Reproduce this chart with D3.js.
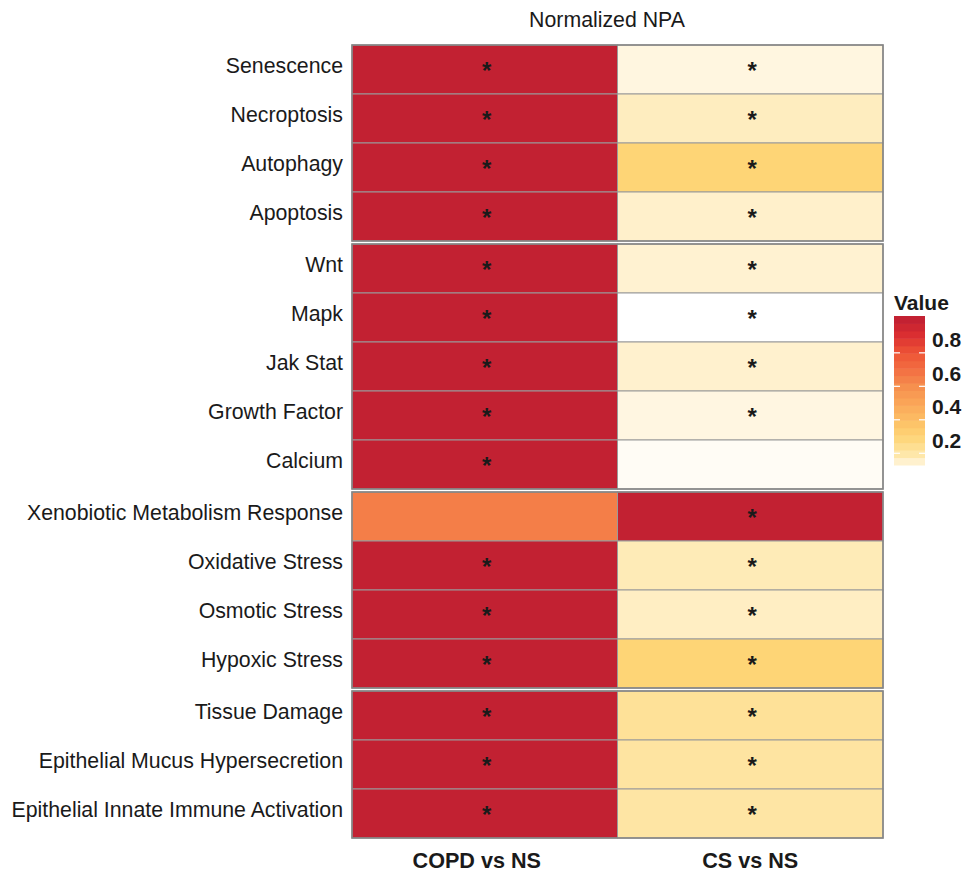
<!DOCTYPE html>
<html>
<head>
<meta charset="utf-8">
<script src="https://cdn.jsdelivr.net/npm/d3@7/dist/d3.min.js"></script>
<style>
  html, body { margin: 0; padding: 0; background: #fff; }
  svg { display: block; font-family: "Liberation Sans", Arial, Helvetica, sans-serif; }
</style>
</head>
<body>
<svg id="chart" width="963" height="872"></svg>
<script>
// Pathway rows, top to bottom, with the block each belongs to
const pathways = [
  "Senescence", "Necroptosis", "Autophagy", "Apoptosis",
  "Wnt", "Mapk", "Jak Stat", "Growth Factor", "Calcium",
  "Xenobiotic Metabolism Response", "Oxidative Stress", "Osmotic Stress", "Hypoxic Stress",
  "Tissue Damage", "Epithelial Mucus Hypersecretion", "Epithelial Innate Immune Activation"
];
const blocks = [0, 0, 0, 0, 1, 1, 1, 1, 1, 2, 2, 2, 2, 3, 3, 3];

const comparisons = ["COPD vs NS", "CS vs NS"];

// Normalized NPA per comparison
const copdValues = [1.0, 1.0, 1.0, 1.0, 1.0, 1.0, 1.0, 1.0, 1.0, 0.65, 1.0, 1.0, 1.0, 1.0, 1.0, 1.0];
const csValues   = [0.13, 0.17, 0.30, 0.155, 0.148, 0.0, 0.152, 0.125, 0.04, 1.0, 0.18, 0.165, 0.30, 0.23, 0.21, 0.205];

// Significance flags (drawn as asterisks)
const copdSig = [1, 1, 1, 1, 1, 1, 1, 1, 1, 0, 1, 1, 1, 1, 1, 1];
const csSig   = [1, 1, 1, 1, 1, 1, 1, 1, 0, 1, 1, 1, 1, 1, 1, 1];

const legendTicks = [0.2, 0.4, 0.6, 0.8];
const legendRange = [0.13, 1.02];

// Colour ramp: cream -> yellow -> orange -> red
const colorStops = [0.0, 0.13, 0.2, 0.3, 0.4, 0.5, 0.6, 0.7, 0.8, 0.9, 1.02];
const colorValues = ["#ffffff", "#fff6e0", "#fee6a6", "#fed576", "#fdbe65", "#faa658",
                     "#f68f4e", "#f26e42", "#ee5536", "#dc2f31", "#bd1e32"];

const color = d3.scaleLinear().domain(colorStops).range(colorValues)
  .interpolate(d3.interpolateRgb).clamp(true);

const svg = d3.select("#chart");

const rowGap = 3;
const x = d3.scaleBand().domain(comparisons).range([352, 883]);
const y = d3.scaleBand().domain(pathways).range([45, 45 + 16 * 49]);
const yPos = (p, i) => y(p) + blocks[i] * rowGap;

const cells = [];
pathways.forEach((p, i) => {
  cells.push({ p, i, comp: comparisons[0], v: copdValues[i], sig: copdSig[i] });
  cells.push({ p, i, comp: comparisons[1], v: csValues[i], sig: csSig[i] });
});

const g = svg.append("g");

g.selectAll("rect.cell").data(cells).join("rect")
  .attr("class", "cell")
  .attr("x", d => x(d.comp))
  .attr("y", d => yPos(d.p, d.i))
  .attr("width", x.bandwidth())
  .attr("height", y.bandwidth())
  .attr("fill", d => color(d.v))
  .attr("stroke", "#9a9a9a")
  .attr("stroke-width", 1);

// Block outlines
const blockIds = [...new Set(blocks)];
blockIds.forEach(b => {
  const idx = blocks.map((v, i) => v === b ? i : -1).filter(i => i >= 0);
  const top = yPos(pathways[idx[0]], idx[0]);
  const bottom = yPos(pathways[idx[idx.length - 1]], idx[idx.length - 1]) + y.bandwidth();
  g.append("rect")
    .attr("x", x.range()[0])
    .attr("y", top)
    .attr("width", x.range()[1] - x.range()[0])
    .attr("height", bottom - top)
    .attr("fill", "none")
    .attr("stroke", "#858585")
    .attr("stroke-width", 1.6);
});

// Asterisks
g.selectAll("text.star").data(cells.filter(d => d.sig)).join("text")
  .attr("class", "star")
  .attr("x", d => x(d.comp) + x.bandwidth() / 2 + 2)
  .attr("y", d => yPos(d.p, d.i) + y.bandwidth() / 2 + 9)
  .attr("text-anchor", "middle")
  .attr("font-size", 24)
  .attr("font-weight", "bold")
  .attr("fill", "#1a1a1a")
  .text("*");

// Row labels
g.selectAll("text.row").data(pathways).join("text")
  .attr("class", "row")
  .attr("x", 343)
  .attr("y", (p, i) => yPos(p, i) + y.bandwidth() / 2 + 3.5)
  .attr("text-anchor", "end")
  .attr("font-size", 21.3)
  .attr("fill", "#1a1a1a")
  .text(d => d);

// Column labels
g.selectAll("text.col").data(comparisons).join("text")
  .attr("class", "col")
  .attr("x", d => x(d) + x.bandwidth() / 2 - (d === comparisons[0] ? 8 : 0))
  .attr("y", 868)
  .attr("text-anchor", "middle")
  .attr("font-size", 21.6)
  .attr("font-weight", "bold")
  .attr("fill", "#1a1a1a")
  .text(d => d);

// Title
svg.append("text")
  .attr("x", 607)
  .attr("y", 27)
  .attr("text-anchor", "middle")
  .attr("font-size", 21.3)
  .attr("fill", "#1a1a1a")
  .text("Normalized NPA");

// Legend colour bar
const legX = 894, legW = 31;
const ly = d3.scaleLinear().domain(legendRange).range([465, 316]);
const nbin = 20;
const binEdges = d3.range(nbin + 1).map(k => legendRange[0] + (legendRange[1] - legendRange[0]) * k / nbin);
const leg = svg.append("g");
leg.selectAll("rect").data(d3.range(nbin)).join("rect")
  .attr("x", legX)
  .attr("y", k => ly(binEdges[k + 1]))
  .attr("width", legW)
  .attr("height", k => ly(binEdges[k]) - ly(binEdges[k + 1]) + 0.5)
  .attr("fill", k => color((binEdges[k] + binEdges[k + 1]) / 2));

legendTicks.forEach(t => {
  [[legX, legX + 6], [legX + legW - 6, legX + legW]].forEach(([a, b]) => {
    leg.append("line")
      .attr("x1", a).attr("x2", b)
      .attr("y1", ly(t)).attr("y2", ly(t))
      .attr("stroke", "#ffffff").attr("stroke-width", 1.2);
  });
  // labels sit a little above their tick marks
  leg.append("text")
    .attr("x", 932)
    .attr("y", ly(t) - 5.5)
    .attr("font-size", 21)
    .attr("font-weight", "bold")
    .attr("fill", "#1a1a1a")
    .text(d3.format(".1f")(t));
});

leg.append("text")
  .attr("x", legX)
  .attr("y", 310)
  .attr("font-size", 21)
  .attr("font-weight", "bold")
  .attr("fill", "#1a1a1a")
  .text("Value");
</script>
</body>
</html>
